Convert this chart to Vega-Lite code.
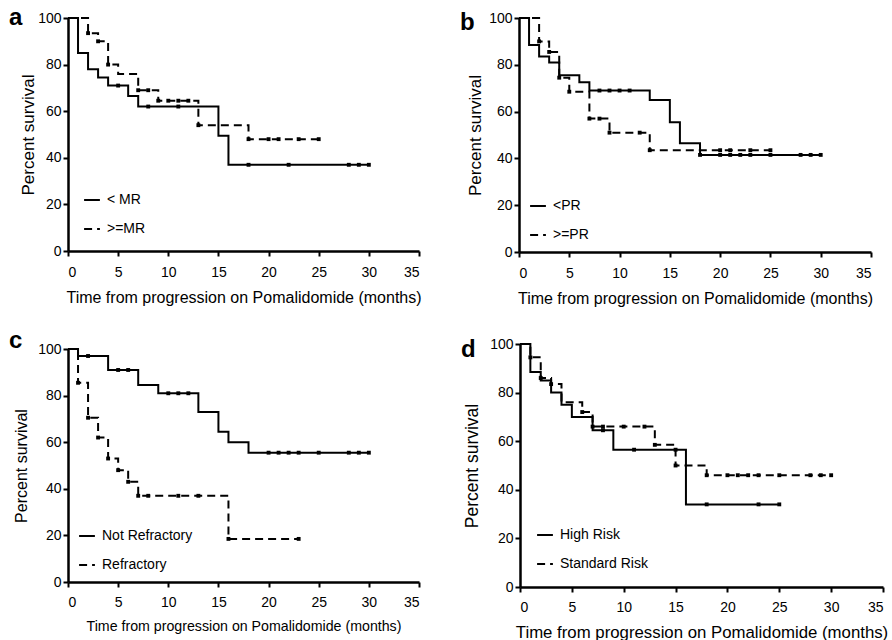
{
  "$schema": "https://vega.github.io/schema/vega-lite/v6.json",
  "padding": {"left": 9, "top": 6, "right": 0, "bottom": 0},
  "config": {
    "font": "Liberation Sans",
    "view": {"stroke": null},
    "axis": {"domainColor": "black", "domainWidth": 2.5, "tickColor": "black", "tickWidth": 2, "tickSize": 5, "labelColor": "black", "titleColor": "black", "labelFont": "Liberation Sans", "titleFont": "Liberation Sans", "titleFontWeight": "normal", "grid": false, "labelFontSize": 14, "titleFontSize": 16},
    "axisX": {"labelPadding": 9, "titlePadding": 10},
    "axisY": {"labelPadding": 2, "titlePadding": 4, "titleFontSize": 17},
    "title": {"anchor": "start", "frame": "group", "fontSize": 24, "fontWeight": "bold", "font": "Liberation Sans", "offset": 0, "baseline": "alphabetic", "dx": -59, "color": "black"},
    "legend": {"orient": "bottom-left", "labelFontSize": 14, "labelFont": "Liberation Sans", "labelColor": "black", "symbolType": "stroke", "symbolStrokeWidth": 2, "symbolSize": 250, "symbolStrokeColor": "black", "rowPadding": 13, "labelOffset": 6}
  },
  "datasets": {
    "a": [
      {"g": "< MR", "k": "step", "t": 0, "s": 100}, {"g": "< MR", "k": "step", "t": 1, "s": 85}, {"g": "< MR", "k": "step", "t": 2, "s": 78}, {"g": "< MR", "k": "step", "t": 3, "s": 74.5}, {"g": "< MR", "k": "step", "t": 4, "s": 71}, {"g": "< MR", "k": "step", "t": 6, "s": 66.5}, {"g": "< MR", "k": "step", "t": 7, "s": 62}, {"g": "< MR", "k": "step", "t": 15, "s": 49.5}, {"g": "< MR", "k": "step", "t": 16, "s": 37}, {"g": "< MR", "k": "step", "t": 30, "s": 37},
      {"g": "< MR", "k": "censor", "t": 5, "s": 71}, {"g": "< MR", "k": "censor", "t": 8, "s": 62}, {"g": "< MR", "k": "censor", "t": 11, "s": 62}, {"g": "< MR", "k": "censor", "t": 18, "s": 37}, {"g": "< MR", "k": "censor", "t": 22, "s": 37}, {"g": "< MR", "k": "censor", "t": 28, "s": 37}, {"g": "< MR", "k": "censor", "t": 29, "s": 37}, {"g": "< MR", "k": "censor", "t": 30, "s": 37},
      {"g": ">=MR", "k": "step", "t": 0, "s": 100}, {"g": ">=MR", "k": "step", "t": 2, "s": 93.5}, {"g": ">=MR", "k": "step", "t": 3, "s": 90}, {"g": ">=MR", "k": "step", "t": 4, "s": 80}, {"g": ">=MR", "k": "step", "t": 5, "s": 76}, {"g": ">=MR", "k": "step", "t": 7, "s": 69}, {"g": ">=MR", "k": "step", "t": 9, "s": 64.5}, {"g": ">=MR", "k": "step", "t": 13, "s": 54}, {"g": ">=MR", "k": "step", "t": 18, "s": 48}, {"g": ">=MR", "k": "step", "t": 25, "s": 48},
      {"g": ">=MR", "k": "censor", "t": 2, "s": 93.5}, {"g": ">=MR", "k": "censor", "t": 3, "s": 90}, {"g": ">=MR", "k": "censor", "t": 4, "s": 80}, {"g": ">=MR", "k": "censor", "t": 7, "s": 69}, {"g": ">=MR", "k": "censor", "t": 8, "s": 69}, {"g": ">=MR", "k": "censor", "t": 9, "s": 64.5}, {"g": ">=MR", "k": "censor", "t": 10, "s": 64.5}, {"g": ">=MR", "k": "censor", "t": 11, "s": 64.5}, {"g": ">=MR", "k": "censor", "t": 12, "s": 64.5}, {"g": ">=MR", "k": "censor", "t": 13, "s": 54}, {"g": ">=MR", "k": "censor", "t": 18, "s": 48}, {"g": ">=MR", "k": "censor", "t": 20, "s": 48}, {"g": ">=MR", "k": "censor", "t": 21, "s": 48}, {"g": ">=MR", "k": "censor", "t": 23, "s": 48}, {"g": ">=MR", "k": "censor", "t": 25, "s": 48}
    ],
    "b": [
      {"g": "<PR", "k": "step", "t": 0, "s": 100}, {"g": "<PR", "k": "step", "t": 1, "s": 88.5}, {"g": "<PR", "k": "step", "t": 2, "s": 83.5}, {"g": "<PR", "k": "step", "t": 3, "s": 81}, {"g": "<PR", "k": "step", "t": 4, "s": 75.5}, {"g": "<PR", "k": "step", "t": 6, "s": 72.5}, {"g": "<PR", "k": "step", "t": 7, "s": 69}, {"g": "<PR", "k": "step", "t": 13, "s": 65}, {"g": "<PR", "k": "step", "t": 15, "s": 55.5}, {"g": "<PR", "k": "step", "t": 16, "s": 46.5}, {"g": "<PR", "k": "step", "t": 18, "s": 41.5}, {"g": "<PR", "k": "step", "t": 30, "s": 41.5},
      {"g": "<PR", "k": "censor", "t": 8, "s": 69}, {"g": "<PR", "k": "censor", "t": 9, "s": 69}, {"g": "<PR", "k": "censor", "t": 10, "s": 69}, {"g": "<PR", "k": "censor", "t": 11, "s": 69}, {"g": "<PR", "k": "censor", "t": 18, "s": 41.5}, {"g": "<PR", "k": "censor", "t": 20, "s": 41.5}, {"g": "<PR", "k": "censor", "t": 21, "s": 41.5}, {"g": "<PR", "k": "censor", "t": 22, "s": 41.5}, {"g": "<PR", "k": "censor", "t": 23, "s": 41.5}, {"g": "<PR", "k": "censor", "t": 25, "s": 41.5}, {"g": "<PR", "k": "censor", "t": 28, "s": 41.5}, {"g": "<PR", "k": "censor", "t": 29, "s": 41.5}, {"g": "<PR", "k": "censor", "t": 30, "s": 41.5},
      {"g": ">=PR", "k": "step", "t": 0, "s": 100}, {"g": ">=PR", "k": "step", "t": 2, "s": 90}, {"g": ">=PR", "k": "step", "t": 3, "s": 85.5}, {"g": ">=PR", "k": "step", "t": 4, "s": 74.5}, {"g": ">=PR", "k": "step", "t": 5, "s": 68.5}, {"g": ">=PR", "k": "step", "t": 7, "s": 57}, {"g": ">=PR", "k": "step", "t": 9, "s": 51}, {"g": ">=PR", "k": "step", "t": 13, "s": 43.5}, {"g": ">=PR", "k": "step", "t": 25, "s": 43.5},
      {"g": ">=PR", "k": "censor", "t": 2, "s": 90}, {"g": ">=PR", "k": "censor", "t": 3, "s": 85.5}, {"g": ">=PR", "k": "censor", "t": 4, "s": 74.5}, {"g": ">=PR", "k": "censor", "t": 5, "s": 68.5}, {"g": ">=PR", "k": "censor", "t": 7, "s": 57}, {"g": ">=PR", "k": "censor", "t": 8, "s": 57}, {"g": ">=PR", "k": "censor", "t": 9, "s": 51}, {"g": ">=PR", "k": "censor", "t": 12, "s": 51}, {"g": ">=PR", "k": "censor", "t": 13, "s": 43.5}, {"g": ">=PR", "k": "censor", "t": 20, "s": 43.5}, {"g": ">=PR", "k": "censor", "t": 21, "s": 43.5}, {"g": ">=PR", "k": "censor", "t": 23, "s": 43.5}, {"g": ">=PR", "k": "censor", "t": 25, "s": 43.5}
    ],
    "c": [
      {"g": "Not Refractory", "k": "step", "t": 0, "s": 100}, {"g": "Not Refractory", "k": "step", "t": 1, "s": 97}, {"g": "Not Refractory", "k": "step", "t": 4, "s": 91}, {"g": "Not Refractory", "k": "step", "t": 7, "s": 84.5}, {"g": "Not Refractory", "k": "step", "t": 9, "s": 81}, {"g": "Not Refractory", "k": "step", "t": 13, "s": 73}, {"g": "Not Refractory", "k": "step", "t": 15, "s": 64.5}, {"g": "Not Refractory", "k": "step", "t": 16, "s": 60}, {"g": "Not Refractory", "k": "step", "t": 18, "s": 55.5}, {"g": "Not Refractory", "k": "step", "t": 30, "s": 55.5},
      {"g": "Not Refractory", "k": "censor", "t": 2, "s": 97}, {"g": "Not Refractory", "k": "censor", "t": 5, "s": 91}, {"g": "Not Refractory", "k": "censor", "t": 6, "s": 91}, {"g": "Not Refractory", "k": "censor", "t": 10, "s": 81}, {"g": "Not Refractory", "k": "censor", "t": 11, "s": 81}, {"g": "Not Refractory", "k": "censor", "t": 12, "s": 81}, {"g": "Not Refractory", "k": "censor", "t": 20, "s": 55.5}, {"g": "Not Refractory", "k": "censor", "t": 21, "s": 55.5}, {"g": "Not Refractory", "k": "censor", "t": 22, "s": 55.5}, {"g": "Not Refractory", "k": "censor", "t": 23, "s": 55.5}, {"g": "Not Refractory", "k": "censor", "t": 25, "s": 55.5}, {"g": "Not Refractory", "k": "censor", "t": 28, "s": 55.5}, {"g": "Not Refractory", "k": "censor", "t": 29, "s": 55.5}, {"g": "Not Refractory", "k": "censor", "t": 30, "s": 55.5},
      {"g": "Refractory", "k": "step", "t": 0, "s": 100}, {"g": "Refractory", "k": "step", "t": 1, "s": 85.5}, {"g": "Refractory", "k": "step", "t": 2, "s": 70.5}, {"g": "Refractory", "k": "step", "t": 3, "s": 62}, {"g": "Refractory", "k": "step", "t": 4, "s": 53}, {"g": "Refractory", "k": "step", "t": 5, "s": 48}, {"g": "Refractory", "k": "step", "t": 6, "s": 43}, {"g": "Refractory", "k": "step", "t": 7, "s": 37}, {"g": "Refractory", "k": "step", "t": 16, "s": 18.5}, {"g": "Refractory", "k": "step", "t": 23, "s": 18.5},
      {"g": "Refractory", "k": "censor", "t": 1, "s": 85.5}, {"g": "Refractory", "k": "censor", "t": 2, "s": 70.5}, {"g": "Refractory", "k": "censor", "t": 3, "s": 62}, {"g": "Refractory", "k": "censor", "t": 4, "s": 53}, {"g": "Refractory", "k": "censor", "t": 5, "s": 48}, {"g": "Refractory", "k": "censor", "t": 6, "s": 43}, {"g": "Refractory", "k": "censor", "t": 7, "s": 37}, {"g": "Refractory", "k": "censor", "t": 8, "s": 37}, {"g": "Refractory", "k": "censor", "t": 11, "s": 37}, {"g": "Refractory", "k": "censor", "t": 13, "s": 37}, {"g": "Refractory", "k": "censor", "t": 16, "s": 18.5}, {"g": "Refractory", "k": "censor", "t": 23, "s": 18.5}
    ],
    "d": [
      {"g": "High Risk", "k": "step", "t": 0, "s": 100}, {"g": "High Risk", "k": "step", "t": 1, "s": 88.5}, {"g": "High Risk", "k": "step", "t": 2, "s": 85}, {"g": "High Risk", "k": "step", "t": 3, "s": 80}, {"g": "High Risk", "k": "step", "t": 4, "s": 75}, {"g": "High Risk", "k": "step", "t": 5, "s": 70}, {"g": "High Risk", "k": "step", "t": 7, "s": 64.5}, {"g": "High Risk", "k": "step", "t": 9, "s": 56.5}, {"g": "High Risk", "k": "step", "t": 16, "s": 34}, {"g": "High Risk", "k": "step", "t": 25, "s": 34},
      {"g": "High Risk", "k": "censor", "t": 8, "s": 64.5}, {"g": "High Risk", "k": "censor", "t": 11, "s": 56.5}, {"g": "High Risk", "k": "censor", "t": 15, "s": 56.5}, {"g": "High Risk", "k": "censor", "t": 18, "s": 34}, {"g": "High Risk", "k": "censor", "t": 23, "s": 34}, {"g": "High Risk", "k": "censor", "t": 25, "s": 34},
      {"g": "Standard Risk", "k": "step", "t": 0, "s": 100}, {"g": "Standard Risk", "k": "step", "t": 1, "s": 94.5}, {"g": "Standard Risk", "k": "step", "t": 2, "s": 86}, {"g": "Standard Risk", "k": "step", "t": 3, "s": 83.5}, {"g": "Standard Risk", "k": "step", "t": 4, "s": 76}, {"g": "Standard Risk", "k": "step", "t": 6, "s": 72}, {"g": "Standard Risk", "k": "step", "t": 7, "s": 66}, {"g": "Standard Risk", "k": "step", "t": 13, "s": 58.5}, {"g": "Standard Risk", "k": "step", "t": 15, "s": 50}, {"g": "Standard Risk", "k": "step", "t": 18, "s": 46}, {"g": "Standard Risk", "k": "step", "t": 30, "s": 46},
      {"g": "Standard Risk", "k": "censor", "t": 1, "s": 94.5}, {"g": "Standard Risk", "k": "censor", "t": 2, "s": 86}, {"g": "Standard Risk", "k": "censor", "t": 3, "s": 83.5}, {"g": "Standard Risk", "k": "censor", "t": 6, "s": 72}, {"g": "Standard Risk", "k": "censor", "t": 7, "s": 66}, {"g": "Standard Risk", "k": "censor", "t": 8, "s": 66}, {"g": "Standard Risk", "k": "censor", "t": 10, "s": 66}, {"g": "Standard Risk", "k": "censor", "t": 12, "s": 66}, {"g": "Standard Risk", "k": "censor", "t": 13, "s": 58.5}, {"g": "Standard Risk", "k": "censor", "t": 15, "s": 50}, {"g": "Standard Risk", "k": "censor", "t": 18, "s": 46}, {"g": "Standard Risk", "k": "censor", "t": 20, "s": 46}, {"g": "Standard Risk", "k": "censor", "t": 21, "s": 46}, {"g": "Standard Risk", "k": "censor", "t": 22, "s": 46}, {"g": "Standard Risk", "k": "censor", "t": 23, "s": 46}, {"g": "Standard Risk", "k": "censor", "t": 25, "s": 46}, {"g": "Standard Risk", "k": "censor", "t": 28, "s": 46}, {"g": "Standard Risk", "k": "censor", "t": 29, "s": 46}, {"g": "Standard Risk", "k": "censor", "t": 30, "s": 46}
    ]
  },
  "spacing": 23,
  "resolve": {"scale": {"strokeDash": "independent"}, "legend": {"strokeDash": "independent"}},
  "vconcat": [
    {
      "hconcat": [
        {
          "width": 351, "height": 233,
          "title": {"text": "a", "dy": 23},
          "data": {"name": "a"},
          "layer": [
            {
              "transform": [{"filter": "datum.k == 'step'"}],
              "mark": {"type": "line", "interpolate": "step-after", "color": "black", "strokeWidth": 2},
              "encoding": {
                "x": {"field": "t", "type": "quantitative", "scale": {"domain": [0, 35], "nice": false}, "axis": {"values": [0, 5, 10, 15, 20, 25, 30, 35], "title": "Time from progression on Pomalidomide (months)"}},
                "y": {"field": "s", "type": "quantitative", "scale": {"domain": [0, 100], "nice": false}, "axis": {"values": [0, 20, 40, 60, 80, 100], "title": "Percent survival", "titlePadding": 0}},
                "strokeDash": {"field": "g", "type": "nominal", "scale": {"domain": ["< MR", ">=MR"], "range": [[1, 0], [8, 5]]}, "legend": {"title": null, "offset": 15}}
              }
            },
            {
              "transform": [{"filter": "datum.k == 'censor'"}],
              "mark": {"type": "point", "shape": "square", "filled": true, "color": "black", "size": 15, "opacity": 1},
              "encoding": {"x": {"field": "t", "type": "quantitative"}, "y": {"field": "s", "type": "quantitative"}}
            }
          ]
        },
        {
          "width": 352, "height": 234,
          "title": {"text": "b", "dy": 28},
          "data": {"name": "b"},
          "layer": [
            {
              "transform": [{"filter": "datum.k == 'step'"}],
              "mark": {"type": "line", "interpolate": "step-after", "color": "black", "strokeWidth": 2},
              "encoding": {
                "x": {"field": "t", "type": "quantitative", "scale": {"domain": [0, 35], "nice": false}, "axis": {"values": [0, 5, 10, 15, 20, 25, 30, 35], "title": "Time from progression on Pomalidomide (months)"}},
                "y": {"field": "s", "type": "quantitative", "scale": {"domain": [0, 100], "nice": false}, "axis": {"values": [0, 20, 40, 60, 80, 100], "title": "Percent survival", "titlePadding": 4}},
                "strokeDash": {"field": "g", "type": "nominal", "scale": {"domain": ["<PR", ">=PR"], "range": [[1, 0], [8, 5]]}, "legend": {"title": null, "offset": 10}}
              }
            },
            {
              "transform": [{"filter": "datum.k == 'censor'"}],
              "mark": {"type": "point", "shape": "square", "filled": true, "color": "black", "size": 15, "opacity": 1},
              "encoding": {"x": {"field": "t", "type": "quantitative"}, "y": {"field": "s", "type": "quantitative"}}
            }
          ]
        }
      ],
      "bounds": "flush",
      "spacing": 100,
      "resolve": {"scale": {"strokeDash": "independent"}, "legend": {"strokeDash": "independent"}}
    },
    {
      "hconcat": [
        {
          "width": 351, "height": 233,
          "title": {"text": "c", "dy": 15},
          "data": {"name": "c"},
          "layer": [
            {
              "transform": [{"filter": "datum.k == 'step'"}],
              "mark": {"type": "line", "interpolate": "step-after", "color": "black", "strokeWidth": 2},
              "encoding": {
                "x": {"field": "t", "type": "quantitative", "scale": {"domain": [0, 35], "nice": false}, "axis": {"values": [0, 5, 10, 15, 20, 25, 30, 35], "title": "Time from progression on Pomalidomide (months)", "titleFontSize": 14.2, "labelPadding": 8}},
                "y": {"field": "s", "type": "quantitative", "scale": {"domain": [0, 100], "nice": false}, "axis": {"values": [0, 20, 40, 60, 80, 100], "title": "Percent survival", "titlePadding": 8, "titleFontSize": 16}},
                "strokeDash": {"field": "g", "type": "nominal", "scale": {"domain": ["Not Refractory", "Refractory"], "range": [[1, 0], [8, 5]]}, "legend": {"title": null, "offset": 10}}
              }
            },
            {
              "transform": [{"filter": "datum.k == 'censor'"}],
              "mark": {"type": "point", "shape": "square", "filled": true, "color": "black", "size": 15, "opacity": 1},
              "encoding": {"x": {"field": "t", "type": "quantitative"}, "y": {"field": "s", "type": "quantitative"}}
            }
          ]
        },
        {
          "width": 363, "height": 243,
          "title": {"text": "d", "dy": 29},
          "data": {"name": "d"},
          "layer": [
            {
              "transform": [{"filter": "datum.k == 'step'"}],
              "mark": {"type": "line", "interpolate": "step-after", "color": "black", "strokeWidth": 2},
              "encoding": {
                "x": {"field": "t", "type": "quantitative", "scale": {"domain": [0, 35], "nice": false}, "axis": {"values": [0, 5, 10, 15, 20, 25, 30, 35], "title": "Time from progression on Pomalidomide (months)", "titleFontSize": 16.8, "labelPadding": 8}},
                "y": {"field": "s", "type": "quantitative", "scale": {"domain": [0, 100], "nice": false}, "axis": {"values": [0, 20, 40, 60, 80, 100], "title": "Percent survival", "titlePadding": 8, "titleFontSize": 17.5}},
                "strokeDash": {"field": "g", "type": "nominal", "scale": {"domain": ["High Risk", "Standard Risk"], "range": [[1, 0], [8, 5]]}, "legend": {"title": null, "offset": 16}}
              }
            },
            {
              "transform": [{"filter": "datum.k == 'censor'"}],
              "mark": {"type": "point", "shape": "square", "filled": true, "color": "black", "size": 15, "opacity": 1},
              "encoding": {"x": {"field": "t", "type": "quantitative"}, "y": {"field": "s", "type": "quantitative"}}
            }
          ]
        }
      ],
      "bounds": "flush",
      "center": true,
      "spacing": 101,
      "resolve": {"scale": {"strokeDash": "independent"}, "legend": {"strokeDash": "independent"}}
    }
  ]
}
